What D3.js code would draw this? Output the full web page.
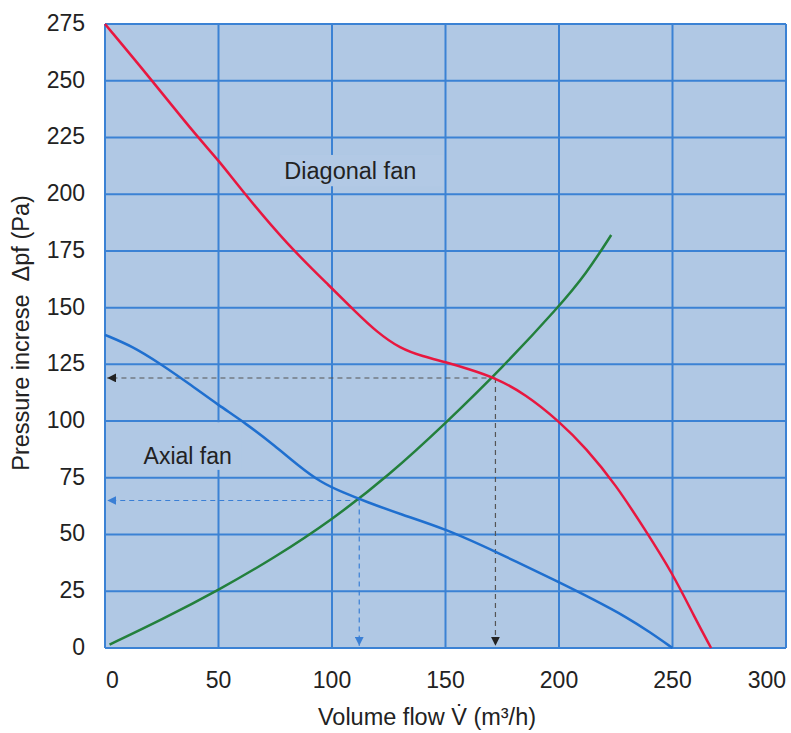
<!DOCTYPE html>
<html>
<head>
<meta charset="utf-8">
<script src="https://cdn.jsdelivr.net/npm/d3@7"></script>
<style>
  body { margin: 0; background: #fff; }
  text { font-family: "Liberation Sans", Arial, sans-serif; fill: #222; }
</style>
</head>
<body>
<svg id="mysvg" width="791" height="733"></svg>
<script>
// tick values
var xTicks = [0, 50, 100, 150, 200, 250, 300];
var yTicks = [0, 25, 50, 75, 100, 125, 150, 175, 200, 225, 250, 275];

// curves: [volume flow, pressure]
var diagonalFan = [[0,275],[20,251],[40,226],[50,215],[60,202],[80,178],[100,158.5],[110,148.5],
  [120,139],[130,132],[140,128.5],[150,126],[160,123],[172,119],[185,112],[200,100],[212,88],
  [225,72],[238,52],[250,33],[260,13],[267,0]];
var axialFan = [[0,138],[12,133],[24,125.5],[37,116.5],[50,107],[62,99],[75,89],[85,80.5],
  [95,73],[105,68.5],[115,64.5],[130,59],[150,52.5],[172,42.5],[200,29],[215,21.5],[230,13.5],[240,7],[250,0]];
var systemCurve = [[2,1.5],[25,12.5],[50,25.5],[75,40],[100,56.5],[125,76],[150,99],[175,123.5],
  [200,150.5],[212,165],[223,182]];

// operating points
var opDiagonal = [172, 119];
var opAxial = [112, 65];

var svg = d3.select("svg"),
    margin = {top: 24, right: 5, bottom: 85, left: 105},
    width = +svg.attr("width") - margin.left - margin.right,
    height = +svg.attr("height") - margin.top - margin.bottom;

var x = d3.scaleLinear().domain([0, 300]).range([0, width]),
    y = d3.scaleLinear().domain([0, 275]).range([height, 0]);

var defs = svg.append("defs");
function arrow(id, color) {
  defs.append("marker")
    .attr("id", id)
    .attr("viewBox", "0 0 10 10")
    .attr("refX", 10).attr("refY", 5)
    .attr("markerWidth", 9).attr("markerHeight", 9)
    .attr("markerUnits", "userSpaceOnUse")
    .attr("orient", "auto")
    .append("path")
    .attr("d", "M0,0L10,5L0,10Z")
    .attr("fill", color);
}
arrow("arrBlack", "#222");
arrow("arrBlue", "#3a7fd5");

var g = svg.append("g")
    .attr("transform", "translate(" + margin.left + "," + margin.top + ")");

// background
g.append("rect")
  .attr("x", 0).attr("y", 0)
  .attr("width", width).attr("height", height)
  .attr("fill", "#b0c8e4");

// grid
g.selectAll(".vgrid")
  .data(xTicks)
  .enter().append("line")
    .attr("class", "vgrid")
    .attr("x1", function(d) { return x(d); })
    .attr("x2", function(d) { return x(d); })
    .attr("y1", 0).attr("y2", height)
    .attr("stroke", "#3b82d4").attr("stroke-width", 2);

g.selectAll(".hgrid")
  .data(yTicks)
  .enter().append("line")
    .attr("class", "hgrid")
    .attr("y1", function(d) { return y(d); })
    .attr("y2", function(d) { return y(d); })
    .attr("x1", 0).attr("x2", width)
    .attr("stroke", "#3b82d4").attr("stroke-width", 2);

// label boxes covering the grid
g.append("rect")
  .attr("x", x(77)).attr("y", y(217.3))
  .attr("width", x(149) - x(77)).attr("height", y(203.5) - y(217.3))
  .attr("fill", "#b2c9e5");
g.append("rect")
  .attr("x", x(16)).attr("y", y(99.5))
  .attr("width", x(60) - x(16)).attr("height", y(78.5) - y(99.5))
  .attr("fill", "#b0c8e4");

g.append("text")
  .attr("x", x(79)).attr("y", y(206.5))
  .attr("font-size", "23.5px")
  .text("Diagonal fan");
g.append("text")
  .attr("x", x(17)).attr("y", y(81))
  .attr("font-size", "23px")
  .text("Axial fan");

// operating point guides
function guides(p, color, marker) {
  g.append("line")
    .attr("x1", x(p[0])).attr("y1", y(p[1]))
    .attr("x2", x(1)).attr("y2", y(p[1]))
    .attr("stroke", color).attr("stroke-width", 1.2)
    .attr("stroke-dasharray", "5,4")
    .attr("marker-end", "url(#" + marker + ")");
  g.append("line")
    .attr("x1", x(p[0])).attr("y1", y(p[1]))
    .attr("x2", x(p[0])).attr("y2", y(1))
    .attr("stroke", color).attr("stroke-width", 1.2)
    .attr("stroke-dasharray", "5,4")
    .attr("marker-end", "url(#" + marker + ")");
}
guides(opDiagonal, "#555", "arrBlack");
guides(opAxial, "#3a7fd5", "arrBlue");

var line = d3.line()
  .x(function(d) { return x(d[0]); })
  .y(function(d) { return y(d[1]); })
  .curve(d3.curveBasis);

g.append("path").datum(systemCurve)
  .attr("d", line).attr("fill", "none")
  .attr("stroke", "#23803c").attr("stroke-width", 2.5);
g.append("path").datum(axialFan)
  .attr("d", line).attr("fill", "none")
  .attr("stroke", "#1f6fcf").attr("stroke-width", 2.5);
g.append("path").datum(diagonalFan)
  .attr("d", line).attr("fill", "none")
  .attr("stroke", "#e8173f").attr("stroke-width", 2.5);

// tick labels
g.selectAll(".ylab")
  .data(yTicks)
  .enter().append("text")
    .attr("class", "ylab")
    .attr("x", -20)
    .attr("y", function(d) { return y(d); })
    .attr("dy", "0.3em")
    .attr("text-anchor", "end")
    .attr("font-size", "23px")
    .text(function(d) { return d; });

g.selectAll(".xlab")
  .data(xTicks)
  .enter().append("text")
    .attr("class", "xlab")
    .attr("x", function(d, i) { return i === 0 ? x(d) + 1 : x(d); })
    .attr("y", height + 40)
    .attr("text-anchor", function(d, i) { return i === 0 ? "start" : (i === xTicks.length - 1 ? "end" : "middle"); })
    .attr("font-size", "23px")
    .text(function(d) { return d; });

// axis titles
svg.append("text")
  .attr("text-anchor", "middle")
  .attr("x", 427).attr("y", 725)
  .attr("font-size", "23.5px")
  .text("Volume flow V\u0307 (m\u00b3/h)");

svg.append("text")
  .attr("text-anchor", "middle")
  .attr("transform", "translate(29," + 333 + ")rotate(-90)")
  .attr("font-size", "23.5px")
  .style("white-space", "pre")
  .text("Pressure increse  \u0394pf (Pa)");
</script>
</body>
</html>
